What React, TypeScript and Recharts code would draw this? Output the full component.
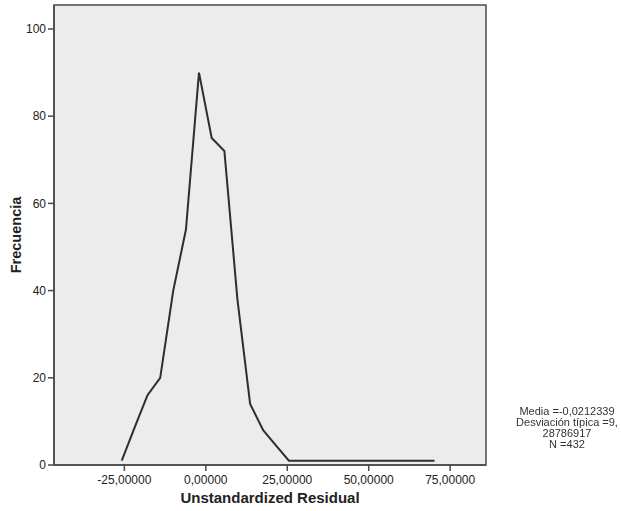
import React from "react";
import { CartesianGrid, Label, Line, LineChart, ReferenceArea, XAxis, YAxis } from "recharts";

// frequency polygon of the residuals (bin midpoints and counts)
const residualMids = [-25.8, -21.9, -17.9, -14.0, -10.0, -6.1, -2.1, 1.8, 5.7, 9.7, 13.6, 17.6, 21.5, 25.5, 70.2];
const frequencies = [1, 8.5, 16, 20, 40, 54, 90, 75, 72, 38, 14, 8, 4.5, 1, 1];

const xTicks = [-25, 0, 25, 50, 75];
const yTicks = [0, 20, 40, 60, 80, 100];
const statsLines = ["Media =-0,0212339", "Desviación típica =9,", "28786917", "N =432"];

const data = residualMids.map((x, i) => ({ x, y: frequencies[i] }));

const font = '"Liberation Sans", Arial, sans-serif';
const frame = "#4a4a4a";
const xDomain: [number, number] = [-46.6, 86];
const yDomain: [number, number] = [0, 105.5];

const fmt = (v: number) => v.toFixed(5).replace(".", ",");

export default function App() {
  return (
    <div style={{ position: "fixed", left: 0, top: 0, width: 621, height: 511, background: "#fff", fontFamily: font }}>
      <LineChart width={621} height={511} data={data} margin={{ top: 5, right: 135, bottom: 0, left: 0 }}>
        <CartesianGrid fill="#ececec" horizontal={false} vertical={false} />
        <ReferenceArea
          x1={xDomain[0]}
          x2={xDomain[1]}
          y1={yDomain[0]}
          y2={yDomain[1]}
          fill="none"
          stroke={frame}
          strokeWidth={1.5}
        />
        <XAxis
          dataKey="x"
          type="number"
          domain={xDomain}
          ticks={xTicks}
          tickFormatter={fmt}
          height={46}
          tickSize={6}
          tickMargin={4}
          allowDataOverflow
          stroke={frame}
          strokeWidth={1.5}
          tick={{ fill: "#222", fontSize: 12, fontFamily: font }}
        >
          <Label
            value="Unstandardized Residual"
            position="insideBottom"
            offset={8}
            style={{ fill: "#222", fontSize: 15, fontWeight: "bold", fontFamily: font }}
          />
        </XAxis>
        <YAxis
          type="number"
          domain={yDomain}
          ticks={yTicks}
          width={54}
          tickSize={6}
          tickMargin={2}
          allowDataOverflow
          stroke={frame}
          strokeWidth={1.5}
          tick={{ fill: "#222", fontSize: 12, fontFamily: font }}
        >
          <Label
            value="Frecuencia"
            angle={-90}
            position="insideLeft"
            offset={16}
            style={{ fill: "#222", fontSize: 14.5, fontWeight: "bold", fontFamily: font, textAnchor: "middle" }}
          />
        </YAxis>
        <Line
          type="linear"
          dataKey="y"
          stroke="#2e2e2e"
          strokeWidth={2}
          dot={false}
          activeDot={false}
          isAnimationActive={false}
        />
      </LineChart>
      <div
        style={{
          position: "absolute",
          left: 507,
          top: 406,
          width: 120,
          textAlign: "center",
          fontSize: 11,
          lineHeight: "11px",
          color: "#333",
        }}
      >
        {statsLines.map((s) => (
          <div key={s}>{s}</div>
        ))}
      </div>
    </div>
  );
}
